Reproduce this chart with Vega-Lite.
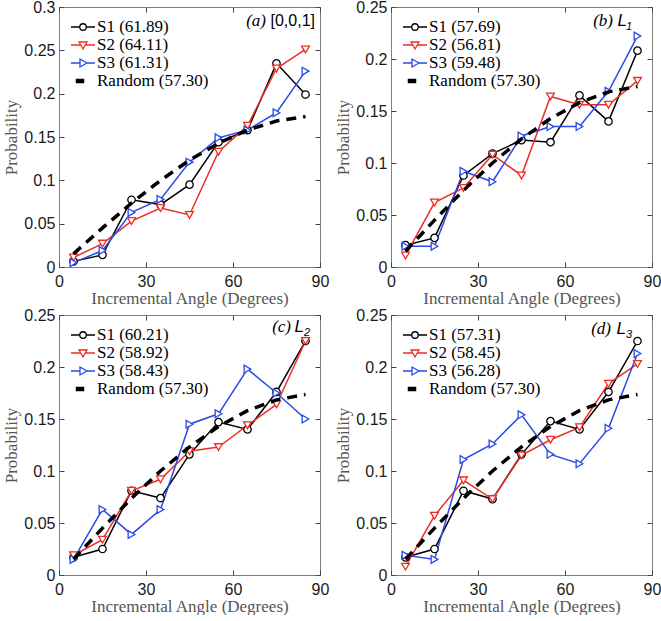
{
  "$schema": "https://vega.github.io/schema/vega-lite/v6.json",
  "padding": {"left": 2, "top": -2, "right": 0, "bottom": 0},
  "datasets": {
    "d": [
      {"p": "a", "x": 5, "S1": 0.0065, "S2": 0.011, "S3": 0.005, "R": 0.0152},
      {"p": "a", "x": 15, "S1": 0.014, "S2": 0.027, "S3": 0.019, "R": 0.0451},
      {"p": "a", "x": 25, "S1": 0.0776, "S2": 0.053, "S3": 0.063, "R": 0.0737},
      {"p": "a", "x": 35, "S1": 0.072, "S2": 0.068, "S3": 0.078, "R": 0.1},
      {"p": "a", "x": 45, "S1": 0.095, "S2": 0.06, "S3": 0.121, "R": 0.1232},
      {"p": "a", "x": 55, "S1": 0.144, "S2": 0.133, "S3": 0.149, "R": 0.1428},
      {"p": "a", "x": 65, "S1": 0.158, "S2": 0.163, "S3": 0.158, "R": 0.158},
      {"p": "a", "x": 75, "S1": 0.235, "S2": 0.229, "S3": 0.178, "R": 0.1684},
      {"p": "a", "x": 85, "S1": 0.199, "S2": 0.251, "S3": 0.226, "R": 0.1736},
      {"p": "b", "x": 5, "S1": 0.021, "S2": 0.011, "S3": 0.02, "R": 0.0152},
      {"p": "b", "x": 15, "S1": 0.028, "S2": 0.062, "S3": 0.02, "R": 0.0451},
      {"p": "b", "x": 25, "S1": 0.088, "S2": 0.076, "S3": 0.092, "R": 0.0737},
      {"p": "b", "x": 35, "S1": 0.109, "S2": 0.108, "S3": 0.082, "R": 0.1},
      {"p": "b", "x": 45, "S1": 0.122, "S2": 0.088, "S3": 0.126, "R": 0.1232},
      {"p": "b", "x": 55, "S1": 0.12, "S2": 0.164, "S3": 0.135, "R": 0.1428},
      {"p": "b", "x": 65, "S1": 0.165, "S2": 0.156, "S3": 0.135, "R": 0.158},
      {"p": "b", "x": 75, "S1": 0.14, "S2": 0.156, "S3": 0.169, "R": 0.1684},
      {"p": "b", "x": 85, "S1": 0.208, "S2": 0.179, "S3": 0.222, "R": 0.1736},
      {"p": "c", "x": 5, "S1": 0.017, "S2": 0.019, "S3": 0.015, "R": 0.0152},
      {"p": "c", "x": 15, "S1": 0.025, "S2": 0.034, "S3": 0.063, "R": 0.0451},
      {"p": "c", "x": 25, "S1": 0.081, "S2": 0.081, "S3": 0.039, "R": 0.0737},
      {"p": "c", "x": 35, "S1": 0.074, "S2": 0.092, "S3": 0.063, "R": 0.1},
      {"p": "c", "x": 45, "S1": 0.116, "S2": 0.119, "S3": 0.145, "R": 0.1232},
      {"p": "c", "x": 55, "S1": 0.147, "S2": 0.123, "S3": 0.155, "R": 0.1428},
      {"p": "c", "x": 65, "S1": 0.14, "S2": 0.144, "S3": 0.198, "R": 0.158},
      {"p": "c", "x": 75, "S1": 0.176, "S2": 0.164, "S3": 0.175, "R": 0.1684},
      {"p": "c", "x": 85, "S1": 0.225, "S2": 0.225, "S3": 0.15, "R": 0.1736},
      {"p": "d", "x": 5, "S1": 0.017, "S2": 0.008, "S3": 0.019, "R": 0.0152},
      {"p": "d", "x": 15, "S1": 0.025, "S2": 0.057, "S3": 0.015, "R": 0.0451},
      {"p": "d", "x": 25, "S1": 0.081, "S2": 0.091, "S3": 0.111, "R": 0.0737},
      {"p": "d", "x": 35, "S1": 0.073, "S2": 0.073, "S3": 0.126, "R": 0.1},
      {"p": "d", "x": 45, "S1": 0.116, "S2": 0.115, "S3": 0.154, "R": 0.1232},
      {"p": "d", "x": 55, "S1": 0.148, "S2": 0.13, "S3": 0.116, "R": 0.1428},
      {"p": "d", "x": 65, "S1": 0.14, "S2": 0.142, "S3": 0.107, "R": 0.158},
      {"p": "d", "x": 75, "S1": 0.176, "S2": 0.184, "S3": 0.141, "R": 0.1684},
      {"p": "d", "x": 85, "S1": 0.225, "S2": 0.203, "S3": 0.213, "R": 0.1736}
    ]
  },
  "config": {
    "view": {"stroke": "#808080", "strokeWidth": 1},
    "axis": {"domain": false, "grid": false, "offset": -5, "tickSize": 5, "tickWidth": 1, "tickColor": "#444444", "labelFont": "Liberation Sans", "labelFontSize": 16, "labelColor": "#1a1a1a", "labelFlush": false, "labelOverlap": false, "titleFont": "Liberation Serif", "titleFontSize": 17, "titleFontWeight": "normal", "titleColor": "#555555"},
    "axisX": {"labelPadding": 6, "titlePadding": 1},
    "axisY": {"labelPadding": 4, "titlePadding": 3},
    "legend": {"labelFont": "Liberation Serif", "labelFontSize": 17, "labelColor": "#000000", "symbolSize": 324, "symbolStrokeWidth": 1.3, "labelOffset": 4, "rowPadding": 0, "padding": 0}
  },
  "columns": 2,
  "spacing": {"row": -1, "column": 4},
  "resolve": {"scale": {"color": "independent", "shape": "independent", "stroke": "independent", "fill": "independent"}},
  "concat": [
    {
      "width": 261, "height": 260,
      "resolve": {"axis": {"x": "independent", "y": "independent"}},
      "layer": [
        {"data": {"name": "d"}, "transform": [{"filter": "datum.p == 'a'"}, {"fold": ["S1", "S2", "S3"], "as": ["s", "y"]}],
          "mark": {"type": "line", "strokeWidth": 1.5},
          "encoding": {
            "x": {"field": "x", "type": "quantitative", "scale": {"domain": [0, 90], "nice": false}, "axis": {"values": [0, 30, 60, 90], "title": "Incremental Angle (Degrees)"}},
            "y": {"field": "y", "type": "quantitative", "scale": {"domain": [0, 0.3], "nice": false}, "axis": {"values": [0, 0.05, 0.1, 0.15, 0.2, 0.25, 0.3], "format": ".2~f", "title": "Probability"}},
            "color": {"field": "s", "type": "nominal", "scale": {"domain": ["S1", "S2", "S3"], "range": ["#000000", "#ee2d24", "#2a4ae8"]}, "legend": null}
          }},
        {"data": {"name": "d"}, "transform": [{"filter": "datum.p == 'a'"}], "mark": {"type": "point", "shape": "circle", "filled": false, "fill": "#ffffff", "stroke": "#000000", "strokeWidth": 1.3, "size": 55, "opacity": 1},
          "encoding": {"x": {"field": "x", "type": "quantitative", "axis": null}, "y": {"field": "S1", "type": "quantitative", "axis": null}}},
        {"data": {"name": "d"}, "transform": [{"filter": "datum.p == 'a'"}], "mark": {"type": "point", "shape": "triangle-down", "filled": false, "fill": "#ffffff", "stroke": "#ee2d24", "strokeWidth": 1.3, "size": 60, "opacity": 1},
          "encoding": {"x": {"field": "x", "type": "quantitative", "axis": null}, "y": {"field": "S2", "type": "quantitative", "axis": null}}},
        {"data": {"name": "d"}, "transform": [{"filter": "datum.p == 'a'"}], "mark": {"type": "point", "shape": "triangle-right", "filled": false, "fill": "#ffffff", "stroke": "#2a4ae8", "strokeWidth": 1.3, "size": 60, "opacity": 1},
          "encoding": {"x": {"field": "x", "type": "quantitative", "axis": null}, "y": {"field": "S3", "type": "quantitative", "axis": null}}},
        {"data": {"name": "d"}, "transform": [{"filter": "datum.p == 'a'"}], "mark": {"type": "line", "strokeWidth": 3.5, "strokeDash": [10, 7], "color": "#000000"},
          "encoding": {
            "x": {"field": "x", "type": "quantitative", "axis": {"orient": "top", "values": [0, 30, 60, 90], "labels": false, "title": null}},
            "y": {"field": "R", "type": "quantitative", "axis": {"orient": "right", "values": [0, 0.05, 0.1, 0.15, 0.2, 0.25, 0.3], "labels": false, "title": null}}
          }},
        {"data": {"values": []}, "mark": {"type": "point", "opacity": 1, "strokeWidth": 1.3},
          "encoding": {
            "shape": {"field": "s", "type": "nominal", "scale": {"domain": ["S1 (61.89)", "S2 (64.11)", "S3 (61.31)", "Random (57.30)"], "range": ["M-1.333,0H-0.36M0.36,0H1.333M-0.36,0A0.36,0.36,0,1,0,0.36,0A0.36,0.36,0,1,0,-0.36,0Z", "M-1.333,0H-0.253M0.253,0H1.333M-0.44,-0.333L0.44,-0.333L0,0.44Z", "M-1.333,0H-0.333M0.44,0H1.333M-0.333,-0.44L-0.333,0.44L0.44,0Z", "M-0.733,-0.173H0.067V0.173H-0.733Z"]}, "legend": {"orient": "none", "legendX": 14, "legendY": 10, "title": null}},
            "stroke": {"field": "s", "type": "nominal", "scale": {"domain": ["S1 (61.89)", "S2 (64.11)", "S3 (61.31)", "Random (57.30)"], "range": ["#000000", "#ee2d24", "#2a4ae8", "#000000"]}, "legend": {"orient": "none", "legendX": 14, "legendY": 10, "title": null}},
            "fill": {"field": "s", "type": "nominal", "scale": {"domain": ["S1 (61.89)", "S2 (64.11)", "S3 (61.31)", "Random (57.30)"], "range": ["#ffffff", "#ffffff", "#ffffff", "#000000"]}, "legend": {"orient": "none", "legendX": 14, "legendY": 10, "title": null}}
          }},
        {"data": {"values": [{"t": "[0,0,1]"}]}, "mark": {"type": "text", "font": "Liberation Sans", "fontSize": 16, "align": "right", "baseline": "alphabetic", "dx": -5, "dy": 19, "color": "#000000"},
          "encoding": {"x": {"datum": 90, "type": "quantitative", "axis": null}, "y": {"datum": 0.3, "type": "quantitative", "axis": null}, "text": {"field": "t"}}},
        {"data": {"values": [{"t": "(a)"}]}, "mark": {"type": "text", "font": "Liberation Serif", "fontStyle": "italic", "fontSize": 17, "align": "right", "baseline": "alphabetic", "dx": -54, "dy": 19, "color": "#000000"},
          "encoding": {"x": {"datum": 90, "type": "quantitative", "axis": null}, "y": {"datum": 0.3, "type": "quantitative", "axis": null}, "text": {"field": "t"}}}
      ]
    },
    {
      "width": 261, "height": 260,
      "resolve": {"axis": {"x": "independent", "y": "independent"}},
      "layer": [
        {"data": {"name": "d"}, "transform": [{"filter": "datum.p == 'b'"}, {"fold": ["S1", "S2", "S3"], "as": ["s", "y"]}],
          "mark": {"type": "line", "strokeWidth": 1.5},
          "encoding": {
            "x": {"field": "x", "type": "quantitative", "scale": {"domain": [0, 90], "nice": false}, "axis": {"values": [0, 30, 60, 90], "title": "Incremental Angle (Degrees)"}},
            "y": {"field": "y", "type": "quantitative", "scale": {"domain": [0, 0.25], "nice": false}, "axis": {"values": [0, 0.05, 0.1, 0.15, 0.2, 0.25], "format": ".2~f", "title": "Probability"}},
            "color": {"field": "s", "type": "nominal", "scale": {"domain": ["S1", "S2", "S3"], "range": ["#000000", "#ee2d24", "#2a4ae8"]}, "legend": null}
          }},
        {"data": {"name": "d"}, "transform": [{"filter": "datum.p == 'b'"}], "mark": {"type": "point", "shape": "circle", "filled": false, "fill": "#ffffff", "stroke": "#000000", "strokeWidth": 1.3, "size": 55, "opacity": 1},
          "encoding": {"x": {"field": "x", "type": "quantitative", "axis": null}, "y": {"field": "S1", "type": "quantitative", "axis": null}}},
        {"data": {"name": "d"}, "transform": [{"filter": "datum.p == 'b'"}], "mark": {"type": "point", "shape": "triangle-down", "filled": false, "fill": "#ffffff", "stroke": "#ee2d24", "strokeWidth": 1.3, "size": 60, "opacity": 1},
          "encoding": {"x": {"field": "x", "type": "quantitative", "axis": null}, "y": {"field": "S2", "type": "quantitative", "axis": null}}},
        {"data": {"name": "d"}, "transform": [{"filter": "datum.p == 'b'"}], "mark": {"type": "point", "shape": "triangle-right", "filled": false, "fill": "#ffffff", "stroke": "#2a4ae8", "strokeWidth": 1.3, "size": 60, "opacity": 1},
          "encoding": {"x": {"field": "x", "type": "quantitative", "axis": null}, "y": {"field": "S3", "type": "quantitative", "axis": null}}},
        {"data": {"name": "d"}, "transform": [{"filter": "datum.p == 'b'"}], "mark": {"type": "line", "strokeWidth": 3.5, "strokeDash": [10, 7], "color": "#000000"},
          "encoding": {
            "x": {"field": "x", "type": "quantitative", "axis": {"orient": "top", "values": [0, 30, 60, 90], "labels": false, "title": null}},
            "y": {"field": "R", "type": "quantitative", "axis": {"orient": "right", "values": [0, 0.05, 0.1, 0.15, 0.2, 0.25], "labels": false, "title": null}}
          }},
        {"data": {"values": []}, "mark": {"type": "point", "opacity": 1, "strokeWidth": 1.3},
          "encoding": {
            "shape": {"field": "s", "type": "nominal", "scale": {"domain": ["S1 (57.69)", "S2 (56.81)", "S3 (59.48)", "Random (57.30)"], "range": ["M-1.333,0H-0.36M0.36,0H1.333M-0.36,0A0.36,0.36,0,1,0,0.36,0A0.36,0.36,0,1,0,-0.36,0Z", "M-1.333,0H-0.253M0.253,0H1.333M-0.44,-0.333L0.44,-0.333L0,0.44Z", "M-1.333,0H-0.333M0.44,0H1.333M-0.333,-0.44L-0.333,0.44L0.44,0Z", "M-0.733,-0.173H0.067V0.173H-0.733Z"]}, "legend": {"orient": "none", "legendX": 14, "legendY": 10, "title": null}},
            "stroke": {"field": "s", "type": "nominal", "scale": {"domain": ["S1 (57.69)", "S2 (56.81)", "S3 (59.48)", "Random (57.30)"], "range": ["#000000", "#ee2d24", "#2a4ae8", "#000000"]}, "legend": {"orient": "none", "legendX": 14, "legendY": 10, "title": null}},
            "fill": {"field": "s", "type": "nominal", "scale": {"domain": ["S1 (57.69)", "S2 (56.81)", "S3 (59.48)", "Random (57.30)"], "range": ["#ffffff", "#ffffff", "#ffffff", "#000000"]}, "legend": {"orient": "none", "legendX": 14, "legendY": 10, "title": null}}
          }},
        {"data": {"values": [{"t": "1"}]}, "mark": {"type": "text", "font": "Liberation Sans", "fontStyle": "italic", "fontSize": 11, "align": "right", "baseline": "alphabetic", "dx": -20, "dy": 23, "color": "#000000"},
          "encoding": {"x": {"datum": 90, "type": "quantitative", "axis": null}, "y": {"datum": 0.25, "type": "quantitative", "axis": null}, "text": {"field": "t"}}},
        {"data": {"values": [{"t": "L"}]}, "mark": {"type": "text", "font": "Liberation Sans", "fontStyle": "italic", "fontSize": 17, "align": "right", "baseline": "alphabetic", "dx": -25, "dy": 19, "color": "#000000"},
          "encoding": {"x": {"datum": 90, "type": "quantitative", "axis": null}, "y": {"datum": 0.25, "type": "quantitative", "axis": null}, "text": {"field": "t"}}},
        {"data": {"values": [{"t": "(b)"}]}, "mark": {"type": "text", "font": "Liberation Serif", "fontStyle": "italic", "fontSize": 17, "align": "right", "baseline": "alphabetic", "dx": -39, "dy": 19, "color": "#000000"},
          "encoding": {"x": {"datum": 90, "type": "quantitative", "axis": null}, "y": {"datum": 0.25, "type": "quantitative", "axis": null}, "text": {"field": "t"}}}
      ]
    },
    {
      "width": 261, "height": 260,
      "resolve": {"axis": {"x": "independent", "y": "independent"}},
      "layer": [
        {"data": {"name": "d"}, "transform": [{"filter": "datum.p == 'c'"}, {"fold": ["S1", "S2", "S3"], "as": ["s", "y"]}],
          "mark": {"type": "line", "strokeWidth": 1.5},
          "encoding": {
            "x": {"field": "x", "type": "quantitative", "scale": {"domain": [0, 90], "nice": false}, "axis": {"values": [0, 30, 60, 90], "title": "Incremental Angle (Degrees)"}},
            "y": {"field": "y", "type": "quantitative", "scale": {"domain": [0, 0.25], "nice": false}, "axis": {"values": [0, 0.05, 0.1, 0.15, 0.2, 0.25], "format": ".2~f", "title": "Probability"}},
            "color": {"field": "s", "type": "nominal", "scale": {"domain": ["S1", "S2", "S3"], "range": ["#000000", "#ee2d24", "#2a4ae8"]}, "legend": null}
          }},
        {"data": {"name": "d"}, "transform": [{"filter": "datum.p == 'c'"}], "mark": {"type": "point", "shape": "circle", "filled": false, "fill": "#ffffff", "stroke": "#000000", "strokeWidth": 1.3, "size": 55, "opacity": 1},
          "encoding": {"x": {"field": "x", "type": "quantitative", "axis": null}, "y": {"field": "S1", "type": "quantitative", "axis": null}}},
        {"data": {"name": "d"}, "transform": [{"filter": "datum.p == 'c'"}], "mark": {"type": "point", "shape": "triangle-down", "filled": false, "fill": "#ffffff", "stroke": "#ee2d24", "strokeWidth": 1.3, "size": 60, "opacity": 1},
          "encoding": {"x": {"field": "x", "type": "quantitative", "axis": null}, "y": {"field": "S2", "type": "quantitative", "axis": null}}},
        {"data": {"name": "d"}, "transform": [{"filter": "datum.p == 'c'"}], "mark": {"type": "point", "shape": "triangle-right", "filled": false, "fill": "#ffffff", "stroke": "#2a4ae8", "strokeWidth": 1.3, "size": 60, "opacity": 1},
          "encoding": {"x": {"field": "x", "type": "quantitative", "axis": null}, "y": {"field": "S3", "type": "quantitative", "axis": null}}},
        {"data": {"name": "d"}, "transform": [{"filter": "datum.p == 'c'"}], "mark": {"type": "line", "strokeWidth": 3.5, "strokeDash": [10, 7], "color": "#000000"},
          "encoding": {
            "x": {"field": "x", "type": "quantitative", "axis": {"orient": "top", "values": [0, 30, 60, 90], "labels": false, "title": null}},
            "y": {"field": "R", "type": "quantitative", "axis": {"orient": "right", "values": [0, 0.05, 0.1, 0.15, 0.2, 0.25], "labels": false, "title": null}}
          }},
        {"data": {"values": []}, "mark": {"type": "point", "opacity": 1, "strokeWidth": 1.3},
          "encoding": {
            "shape": {"field": "s", "type": "nominal", "scale": {"domain": ["S1 (60.21)", "S2 (58.92)", "S3 (58.43)", "Random (57.30)"], "range": ["M-1.333,0H-0.36M0.36,0H1.333M-0.36,0A0.36,0.36,0,1,0,0.36,0A0.36,0.36,0,1,0,-0.36,0Z", "M-1.333,0H-0.253M0.253,0H1.333M-0.44,-0.333L0.44,-0.333L0,0.44Z", "M-1.333,0H-0.333M0.44,0H1.333M-0.333,-0.44L-0.333,0.44L0.44,0Z", "M-0.733,-0.173H0.067V0.173H-0.733Z"]}, "legend": {"orient": "none", "legendX": 14, "legendY": 10, "title": null}},
            "stroke": {"field": "s", "type": "nominal", "scale": {"domain": ["S1 (60.21)", "S2 (58.92)", "S3 (58.43)", "Random (57.30)"], "range": ["#000000", "#ee2d24", "#2a4ae8", "#000000"]}, "legend": {"orient": "none", "legendX": 14, "legendY": 10, "title": null}},
            "fill": {"field": "s", "type": "nominal", "scale": {"domain": ["S1 (60.21)", "S2 (58.92)", "S3 (58.43)", "Random (57.30)"], "range": ["#ffffff", "#ffffff", "#ffffff", "#000000"]}, "legend": {"orient": "none", "legendX": 14, "legendY": 10, "title": null}}
          }},
        {"data": {"values": [{"t": "2"}]}, "mark": {"type": "text", "font": "Liberation Sans", "fontStyle": "italic", "fontSize": 11, "align": "right", "baseline": "alphabetic", "dx": -10, "dy": 21, "color": "#000000"},
          "encoding": {"x": {"datum": 90, "type": "quantitative", "axis": null}, "y": {"datum": 0.25, "type": "quantitative", "axis": null}, "text": {"field": "t"}}},
        {"data": {"values": [{"t": "L"}]}, "mark": {"type": "text", "font": "Liberation Sans", "fontStyle": "italic", "fontSize": 17, "align": "right", "baseline": "alphabetic", "dx": -16, "dy": 17, "color": "#000000"},
          "encoding": {"x": {"datum": 90, "type": "quantitative", "axis": null}, "y": {"datum": 0.25, "type": "quantitative", "axis": null}, "text": {"field": "t"}}},
        {"data": {"values": [{"t": "(c)"}]}, "mark": {"type": "text", "font": "Liberation Serif", "fontStyle": "italic", "fontSize": 17, "align": "right", "baseline": "alphabetic", "dx": -29, "dy": 17, "color": "#000000"},
          "encoding": {"x": {"datum": 90, "type": "quantitative", "axis": null}, "y": {"datum": 0.25, "type": "quantitative", "axis": null}, "text": {"field": "t"}}}
      ]
    },
    {
      "width": 261, "height": 260,
      "resolve": {"axis": {"x": "independent", "y": "independent"}},
      "layer": [
        {"data": {"name": "d"}, "transform": [{"filter": "datum.p == 'd'"}, {"fold": ["S1", "S2", "S3"], "as": ["s", "y"]}],
          "mark": {"type": "line", "strokeWidth": 1.5},
          "encoding": {
            "x": {"field": "x", "type": "quantitative", "scale": {"domain": [0, 90], "nice": false}, "axis": {"values": [0, 30, 60, 90], "title": "Incremental Angle (Degrees)"}},
            "y": {"field": "y", "type": "quantitative", "scale": {"domain": [0, 0.25], "nice": false}, "axis": {"values": [0, 0.05, 0.1, 0.15, 0.2, 0.25], "format": ".2~f", "title": "Probability"}},
            "color": {"field": "s", "type": "nominal", "scale": {"domain": ["S1", "S2", "S3"], "range": ["#000000", "#ee2d24", "#2a4ae8"]}, "legend": null}
          }},
        {"data": {"name": "d"}, "transform": [{"filter": "datum.p == 'd'"}], "mark": {"type": "point", "shape": "circle", "filled": false, "fill": "#ffffff", "stroke": "#000000", "strokeWidth": 1.3, "size": 55, "opacity": 1},
          "encoding": {"x": {"field": "x", "type": "quantitative", "axis": null}, "y": {"field": "S1", "type": "quantitative", "axis": null}}},
        {"data": {"name": "d"}, "transform": [{"filter": "datum.p == 'd'"}], "mark": {"type": "point", "shape": "triangle-down", "filled": false, "fill": "#ffffff", "stroke": "#ee2d24", "strokeWidth": 1.3, "size": 60, "opacity": 1},
          "encoding": {"x": {"field": "x", "type": "quantitative", "axis": null}, "y": {"field": "S2", "type": "quantitative", "axis": null}}},
        {"data": {"name": "d"}, "transform": [{"filter": "datum.p == 'd'"}], "mark": {"type": "point", "shape": "triangle-right", "filled": false, "fill": "#ffffff", "stroke": "#2a4ae8", "strokeWidth": 1.3, "size": 60, "opacity": 1},
          "encoding": {"x": {"field": "x", "type": "quantitative", "axis": null}, "y": {"field": "S3", "type": "quantitative", "axis": null}}},
        {"data": {"name": "d"}, "transform": [{"filter": "datum.p == 'd'"}], "mark": {"type": "line", "strokeWidth": 3.5, "strokeDash": [10, 7], "color": "#000000"},
          "encoding": {
            "x": {"field": "x", "type": "quantitative", "axis": {"orient": "top", "values": [0, 30, 60, 90], "labels": false, "title": null}},
            "y": {"field": "R", "type": "quantitative", "axis": {"orient": "right", "values": [0, 0.05, 0.1, 0.15, 0.2, 0.25], "labels": false, "title": null}}
          }},
        {"data": {"values": []}, "mark": {"type": "point", "opacity": 1, "strokeWidth": 1.3},
          "encoding": {
            "shape": {"field": "s", "type": "nominal", "scale": {"domain": ["S1 (57.31)", "S2 (58.45)", "S3 (56.28)", "Random (57.30)"], "range": ["M-1.333,0H-0.36M0.36,0H1.333M-0.36,0A0.36,0.36,0,1,0,0.36,0A0.36,0.36,0,1,0,-0.36,0Z", "M-1.333,0H-0.253M0.253,0H1.333M-0.44,-0.333L0.44,-0.333L0,0.44Z", "M-1.333,0H-0.333M0.44,0H1.333M-0.333,-0.44L-0.333,0.44L0.44,0Z", "M-0.733,-0.173H0.067V0.173H-0.733Z"]}, "legend": {"orient": "none", "legendX": 14, "legendY": 10, "title": null}},
            "stroke": {"field": "s", "type": "nominal", "scale": {"domain": ["S1 (57.31)", "S2 (58.45)", "S3 (56.28)", "Random (57.30)"], "range": ["#000000", "#ee2d24", "#2a4ae8", "#000000"]}, "legend": {"orient": "none", "legendX": 14, "legendY": 10, "title": null}},
            "fill": {"field": "s", "type": "nominal", "scale": {"domain": ["S1 (57.31)", "S2 (58.45)", "S3 (56.28)", "Random (57.30)"], "range": ["#ffffff", "#ffffff", "#ffffff", "#000000"]}, "legend": {"orient": "none", "legendX": 14, "legendY": 10, "title": null}}
          }},
        {"data": {"values": [{"t": "3"}]}, "mark": {"type": "text", "font": "Liberation Sans", "fontStyle": "italic", "fontSize": 11, "align": "right", "baseline": "alphabetic", "dx": -20, "dy": 23, "color": "#000000"},
          "encoding": {"x": {"datum": 90, "type": "quantitative", "axis": null}, "y": {"datum": 0.25, "type": "quantitative", "axis": null}, "text": {"field": "t"}}},
        {"data": {"values": [{"t": "L"}]}, "mark": {"type": "text", "font": "Liberation Sans", "fontStyle": "italic", "fontSize": 17, "align": "right", "baseline": "alphabetic", "dx": -26, "dy": 19, "color": "#000000"},
          "encoding": {"x": {"datum": 90, "type": "quantitative", "axis": null}, "y": {"datum": 0.25, "type": "quantitative", "axis": null}, "text": {"field": "t"}}},
        {"data": {"values": [{"t": "(d)"}]}, "mark": {"type": "text", "font": "Liberation Serif", "fontStyle": "italic", "fontSize": 17, "align": "right", "baseline": "alphabetic", "dx": -41, "dy": 19, "color": "#000000"},
          "encoding": {"x": {"datum": 90, "type": "quantitative", "axis": null}, "y": {"datum": 0.25, "type": "quantitative", "axis": null}, "text": {"field": "t"}}}
      ]
    }
  ]
}
